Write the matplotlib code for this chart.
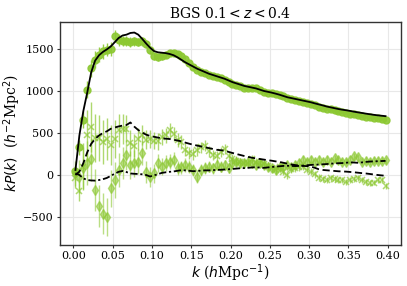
import numpy as np
import matplotlib
matplotlib.use("Agg")
import matplotlib.pyplot as plt

plt.rcParams['font.family'] = ['DejaVu Serif']
plt.rcParams['mathtext.fontset'] = 'dejavusans'

# k bins (h/Mpc)
k = [0.0025, 0.0075, 0.0125, 0.0175, 0.0225, 0.0275, 0.0325, 0.0375, 0.0425, 0.0475,
     0.0525, 0.0575, 0.0625, 0.0675, 0.0725, 0.0775, 0.0825, 0.0875, 0.0925, 0.0975,
     0.1025, 0.1075, 0.1125, 0.1175, 0.1225, 0.1275, 0.1325, 0.1375, 0.1425, 0.1475,
     0.1525, 0.1575, 0.1625, 0.1675, 0.1725, 0.1775, 0.1825, 0.1875, 0.1925, 0.1975,
     0.2025, 0.2075, 0.2125, 0.2175, 0.2225, 0.2275, 0.2325, 0.2375, 0.2425, 0.2475,
     0.2525, 0.2575, 0.2625, 0.2675, 0.2725, 0.2775, 0.2825, 0.2875, 0.2925, 0.2975,
     0.3025, 0.3075, 0.3125, 0.3175, 0.3225, 0.3275, 0.3325, 0.3375, 0.3425, 0.3475,
     0.3525, 0.3575, 0.3625, 0.3675, 0.3725, 0.3775, 0.3825, 0.3875, 0.3925, 0.3975]

# measured monopole kP0
P0 = [50, 330, 660, 1015, 1270, 1370, 1430, 1470, 1490, 1500,
      1650, 1610, 1590, 1590, 1580, 1590, 1580, 1590, 1560, 1490,
      1410, 1400, 1410, 1430, 1450, 1450, 1440, 1420, 1380, 1330,
      1290, 1250, 1230, 1210, 1190, 1180, 1170, 1150, 1130, 1110,
      1080, 1070, 1060, 1040, 1040, 1030, 1040, 1010, 990, 980,
      970, 960, 950, 940, 920, 910, 890, 880, 870, 860,
      840, 830, 810, 800, 790, 780, 770, 760, 750, 740,
      730, 720, 710, 700, 690, 690, 680, 680, 670, 660]
E0 = [60, 90, 100, 100, 100, 100, 90, 90, 80, 80,
      70, 70, 60, 60, 60, 50, 50, 50, 45, 45,
      40, 40, 40, 40, 38, 36, 35, 34, 33, 32,
      31, 30, 30, 29, 28, 28, 27, 27, 26, 26,
      25, 25, 25, 24, 24, 24, 23, 23, 23, 22,
      22, 22, 21, 21, 21, 20, 20, 20, 20, 19,
      19, 19, 19, 18, 18, 18, 18, 17, 17, 17,
      17, 17, 16, 16, 16, 16, 16, 15, 15, 15]

# measured quadrupole kP2
P2 = [-40, -190, 100, 470, 570, 440, 440, 390, 430, 360,
      430, 530, 550, 550, 380, 350, 430, 480, 420, 430,
      410, 400, 450, 470, 530, 490, 420, 390, 300, 260,
      250, 300, 330, 350, 280, 240, 220, 270, 310, 220,
      190, 170, 150, 140, 140, 190, 160, 140, 130, 110,
      80, 60, 90, 40, 0, 70, 80, 90, 100, 60,
      40, 10, -30, -50, -60, -40, -50, -60, -60, -80,
      -60, -50, -40, -60, -80, -100, -90, -60, -60, -130]
E2 = [120, 120, 280, 300, 300, 280, 270, 260, 250, 240,
      230, 200, 180, 160, 150, 140, 130, 120, 115, 110,
      105, 100, 95, 90, 88, 85, 82, 80, 78, 75,
      72, 70, 68, 66, 64, 62, 60, 58, 56, 55,
      54, 53, 52, 51, 50, 49, 48, 47, 46, 45,
      45, 44, 44, 43, 43, 42, 42, 41, 41, 40,
      40, 40, 39, 39, 38, 38, 38, 37, 37, 37,
      36, 36, 36, 35, 35, 35, 35, 34, 34, 34]

# measured hexadecapole kP4
P4 = [20, -20, 80, 140, 185, -180, -370, -460, -500, -160,
      -60, 60, 140, 240, 120, 140, 160, 260, 40, -20,
      20, 140, 100, 140, 160, 180, 80, 90, 120, 100,
      60, -20, 60, 80, 100, 80, 120, 100, 120, 80,
      140, 160, 140, 140, 160, 140, 120, 140, 120, 100,
      80, 60, 100, 100, 120, 100, 120, 140, 180, 160,
      180, 160, 180, 160, 180, 160, 200, 180, 160, 160,
      180, 225, 210, 160, 170, 160, 170, 170, 170, 175]
E4 = [150, 200, 250, 260, 260, 250, 250, 240, 230, 220,
      210, 200, 190, 180, 170, 160, 150, 140, 130, 120,
      110, 105, 100, 95, 90, 88, 85, 82, 80, 78,
      76, 74, 72, 70, 68, 66, 64, 62, 60, 58,
      57, 56, 55, 54, 53, 52, 51, 50, 50, 49,
      49, 48, 48, 47, 47, 46, 46, 45, 45, 45,
      44, 44, 44, 43, 43, 43, 42, 42, 42, 41,
      41, 41, 40, 40, 40, 40, 39, 39, 39, 39]

# best-fit model multipoles
M0 = [60, 470, 760, 980, 1220, 1360, 1425, 1465, 1495, 1530,
      1580, 1630, 1660, 1670, 1690, 1695, 1670, 1620, 1565, 1515,
      1475, 1460, 1455, 1450, 1440, 1425, 1400, 1370, 1340, 1315,
      1290, 1265, 1245, 1225, 1205, 1190, 1175, 1160, 1145, 1125,
      1105, 1090, 1075, 1060, 1050, 1040, 1030, 1015, 1000, 990,
      980, 968, 955, 940, 925, 915, 905, 895, 885, 875,
      865, 852, 840, 828, 815, 805, 795, 785, 777, 770,
      762, 753, 745, 738, 730, 723, 716, 710, 705, 700]
M2 = [0, 40, 140, 270, 370, 430, 470, 500, 520, 550,
      565, 578, 588, 595, 625, 575, 535, 505, 480, 465,
      455, 445, 438, 432, 428, 420, 410, 400, 385, 372,
      360, 350, 340, 330, 320, 310, 300, 295, 290, 275,
      262, 250, 238, 226, 215, 205, 198, 190, 183, 176,
      170, 162, 155, 145, 135, 125, 118, 112, 108, 105,
      100, 85, 68, 60, 56, 52, 48, 44, 42, 40,
      36, 32, 27, 22, 18, 12, 6, 0, -5, -10]
M4 = [20, 0, -40, -60, -65, -67, -60, -50, -35, -10,
      15, 38, 48, 35, 18, 14, 12, 8, 0, -18,
      -5, 10, 25, 32, 38, 42, 50, 58, 55, 50,
      45, 48, 52, 55, 55, 58, 60, 62, 65, 68,
      72, 76, 80, 82, 85, 90, 92, 88, 85, 90,
      95, 100, 104, 108, 110, 108, 106, 108, 112, 116,
      120, 122, 124, 127, 130, 134, 138, 140, 142, 146,
      150, 148, 145, 150, 156, 160, 162, 164, 166, 168]

green = '#8cc832'

fig = plt.figure(figsize=(4.07, 2.86), dpi=100)
ax = fig.add_axes([0.1474, 0.1434, 0.8379, 0.7807])

ax.grid(True, color='#e8e8e8', lw=0.8, zorder=0)
ax.set_axisbelow(True)

ax.errorbar(k, P0, yerr=E0, fmt='o', color=green, ms=5, elinewidth=1.0,
            capsize=0, alpha=0.9, zorder=2)
ax.errorbar(k, P2, yerr=E2, fmt='x', color=green, ms=4.2, mew=1.1, elinewidth=1.0,
            capsize=0, alpha=0.7, zorder=2)
ax.errorbar(k, P4, yerr=E4, fmt='d', color=green, ms=4.6, elinewidth=1.0,
            capsize=0, alpha=0.6, zorder=2)

ax.plot(k, M0, '-', color='black', lw=1.3, zorder=3)
ax.plot(k, M2, '--', color='black', lw=1.3, zorder=3, dashes=(4, 2))
ax.plot(k, M4, '-.', color='black', lw=1.3, zorder=3, dashes=(4, 1.5, 1.2, 1.5))

ax.set_xlim(-0.0172, 0.4172)
ax.set_ylim(-833, 1824)
ax.set_xticks([0.0, 0.05, 0.10, 0.15, 0.20, 0.25, 0.30, 0.35, 0.40])
ax.set_xticklabels(['0.00', '0.05', '0.10', '0.15', '0.20', '0.25', '0.30', '0.35', '0.40'])
ax.set_yticks([-500, 0, 500, 1000, 1500])
ax.set_yticklabels(['\u2212500', '0', '500', '1000', '1500'])

for s in ax.spines.values():
    s.set_color('#333333')
    s.set_linewidth(1.0)
ax.tick_params(axis='both', which='major', labelsize=8, length=2.5, width=0.8,
               color='#333333', pad=2)

ax.set_xlabel('$k$ ($h$Mpc$^{-1}$)', fontsize=10, labelpad=1)
ax.set_ylabel('$kP(k)$  ($h^{-2}$Mpc$^{2}$)', fontsize=10, labelpad=0)
ax.set_title('BGS 0.1$<z<$0.4', fontsize=10, pad=3)

fig.savefig('out.png', dpi=100)
